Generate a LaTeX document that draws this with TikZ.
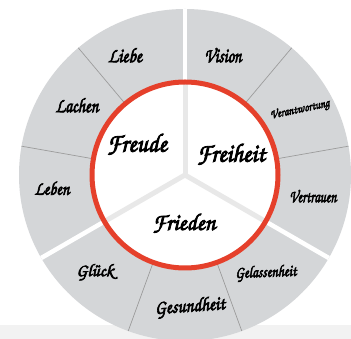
\documentclass[tikz,border=0pt]{standalone}
\usepackage[T1]{fontenc}
\usepackage{graphicx}
\definecolor{ringgray}{HTML}{D4D6D8}
\definecolor{redring}{HTML}{E5402B}
\definecolor{sepgray}{HTML}{E8E8E8}
\definecolor{divgray}{HTML}{9C9C9C}
\definecolor{bandgray}{HTML}{F2F2F2}
\newcommand\handfont{\fontencoding{T1}\fontfamily{pzc}\fontseries{mb}\fontshape{it}\selectfont}
\newcommand\boldon{\special{pdf:literal direct 2 Tr 0.35 w}}
\newcommand\boldoff{\special{pdf:literal direct 0 Tr}}
\newcommand\lab[3]{\resizebox*{#1pt}{#2pt}{\handfont\boldon #3\boldoff}}
\tikzset{
  lbl/.style={inner sep=0pt, text=black},
}
\begin{document}
\begin{tikzpicture}[x=1pt,y=1pt]
\useasboundingbox (0,0) rectangle (351,339);
\fill[white] (0,0) rectangle (351,339);
\fill[bandgray] (0,0) rectangle (351,14);
\coordinate (c) at (185,164);
\fill[ringgray] (c) circle (166);
\foreach \a in {90,210,330} \draw[white, line width=4.5pt] (c) -- ++(\a:166);
\foreach \a in {10,50,130,170,250,290} \draw[divgray, line width=0.7pt] (c) -- ++(\a:166);
\fill[white] (c) circle (93);
\foreach \a in {90,210,330} \draw[sepgray, line width=5pt] (c) -- ++(\a:93);
\draw[redring, line width=5pt] (c) circle (93);
% inner labels
\node[lbl] (freude) at (137,195) {\lab{60}{22}{Freude}};
\node[lbl] (freiheit) at (231,185) {\lab{68}{22}{Freiheit}};
\node[lbl] (frieden) at (184,116) {\lab{63}{20}{Frieden}};
% ring labels
\node[lbl] (liebe) at (125,284) {\lab{34}{15}{Liebe}};
\node[lbl] (lachen) at (77,234) {\lab{43}{15}{Lachen}};
\node[lbl] (leben) at (52,151) {\lab{35}{14}{Leben}};
\node[lbl] (glueck) at (95,67) {\lab{37}{17}{Gl\"uck}};
\node[lbl, rotate=4] (gesundheit) at (190,32) {\lab{70}{19}{Gesundheit}};
\node[lbl, rotate=2] (gelassenheit) at (266,66) {\lab{61}{16}{Gelassenheit}};
\node[lbl] (vertrauen) at (313,143) {\lab{47}{13}{Vertrauen}};
\node[lbl, rotate=12] (verantwortung) at (300,229) {\lab{60}{13}{Verantwortung}};
\node[lbl] (vision) at (223,284) {\lab{37}{15}{Vision}};
\end{tikzpicture}
\end{document}
